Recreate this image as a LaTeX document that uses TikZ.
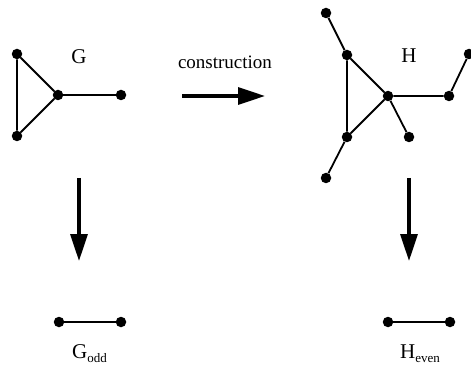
\documentclass[tikz,border=0pt]{standalone}
\usepackage{fontspec}
\setmainfont{Liberation Serif}
\usepackage{tikz}
\usetikzlibrary{arrows.meta}

\begin{document}
\begin{tikzpicture}[
        x=1pt, y=-1pt,
        vertex/.style={circle, fill=black, draw=none, inner sep=0pt, minimum size=10.5pt},
        edge/.style={line width=1.8pt},
        bigarrow/.style={line width=3.2pt, -{Triangle[length=27pt, width=17pt]}},
        lbl/.style={font=\fontsize{19pt}{22pt}\selectfont, inner sep=0pt},
        graphname/.style={font=\fontsize{21pt}{24pt}\selectfont, inner sep=0pt}
    ]
        \useasboundingbox (0,0) rectangle (471,366);

        % graph G
        \node[vertex] (g1) at (17,54) {};
        \node[vertex] (g2) at (17,136) {};
        \node[vertex] (g3) at (58,95) {};
        \node[vertex] (g4) at (121,95) {};
        \node[graphname] (glabel) at (79,57) {G};
        \draw[edge] (g1) -- (g2) -- (g3) -- (g1);
        \draw[edge] (g3) -- (g4);

        % graph H
        \node[vertex] (h1) at (347,55) {};
        \node[vertex] (h2) at (347,137) {};
        \node[vertex] (h3) at (388,96) {};
        \node[vertex] (h4) at (449,96) {};
        \node[vertex] (h5) at (469,54) {};
        \node[vertex] (h6) at (409,137) {};
        \node[vertex] (h7) at (326,13) {};
        \node[vertex] (h8) at (326,178) {};
        \node[graphname] (hlabel) at (409,56) {H};
        \draw[edge] (h1) -- (h2) -- (h3) -- (h1);
        \draw[edge] (h3) -- (h4) -- (h5);
        \draw[edge] (h3) -- (h6);
        \draw[edge] (h1) -- (h7);
        \draw[edge] (h2) -- (h8);

        % construction arrow
        \node[lbl] (constr) at (225,62) {construction};
        \coordinate (cstart) at (182,96);
        \coordinate (cend) at (265,96);
        \draw[bigarrow] (cstart) -- (cend);

        % down arrows
        \coordinate (gdown) at (79,178);
        \coordinate (godd) at (79,261);
        \coordinate (hdown) at (409,178);
        \coordinate (heven) at (409,261);
        \draw[bigarrow] (gdown) -- (godd);
        \draw[bigarrow] (hdown) -- (heven);

        % G_odd
        \node[vertex] (o1) at (59,322) {};
        \node[vertex] (o2) at (121,322) {};
        \draw[edge] (o1) -- (o2);
        \node[graphname, anchor=base west] (oddlabel) at (72,358) {G\raisebox{-4pt}{\fontsize{13pt}{15pt}\selectfont odd}};

        % H_even
        \node[vertex] (e1) at (388,322) {};
        \node[vertex] (e2) at (450,322) {};
        \draw[edge] (e1) -- (e2);
        \node[graphname, anchor=base west] (evenlabel) at (400,358) {H\raisebox{-4pt}{\fontsize{13pt}{15pt}\selectfont even}};
    \end{tikzpicture}
\end{document}
